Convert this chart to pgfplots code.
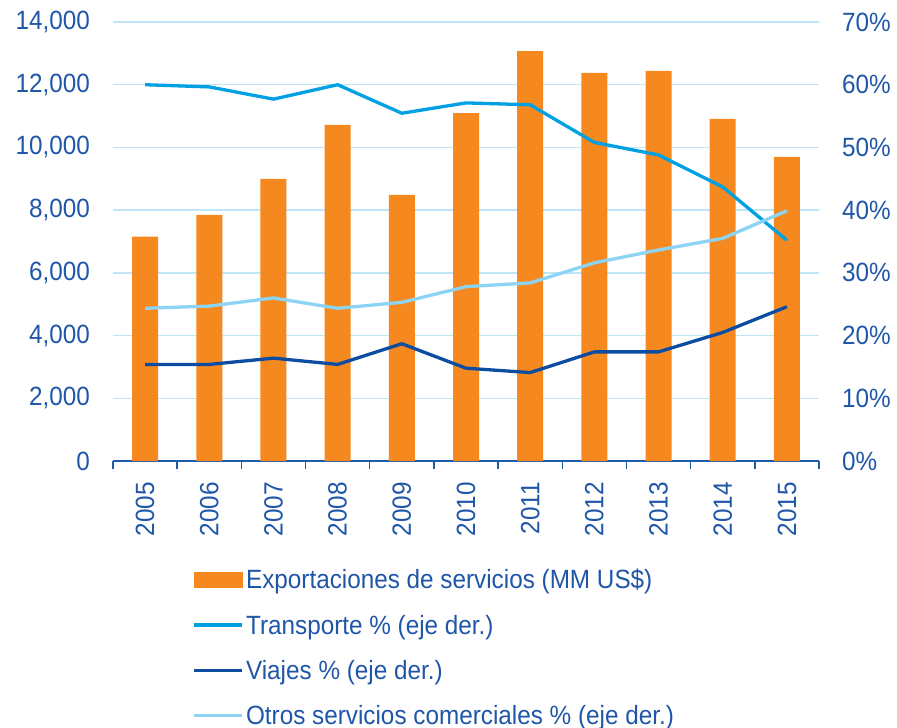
\documentclass[border=0pt]{standalone}
\usepackage{fontspec}
\setmainfont{Liberation Sans}[FakeStretch=0.92]
\usepackage{pgfplots}
\pgfplotsset{compat=1.18}
\definecolor{barorange}{RGB}{245,137,31}
\definecolor{transp}{RGB}{0,160,227}
\definecolor{viajes}{RGB}{12,77,162}
\definecolor{otros}{RGB}{141,211,244}
\definecolor{textblue}{RGB}{31,86,168}
\definecolor{gridblue}{RGB}{190,230,247}
\definecolor{axisblue}{RGB}{31,91,170}
\begin{document}
\begin{tikzpicture}
\path[use as bounding box] (-113bp,-267bp) rectangle (784bp,461bp);
\begin{axis}[
  scale only axis, width=706bp, height=439bp,
  at={(0,0)}, anchor=south west,
  xmin=-0.5, xmax=10.5, ymin=0, ymax=14000,
  axis x line*=bottom, axis y line*=left,
  x axis line style={-, line width=1.8bp, color=axisblue},
  y axis line style={draw=none},
  xtick={0,...,10},
  xticklabels={2005,2006,2007,2008,2009,2010,2011,2012,2013,2014,2015},
  minor xtick={-0.5,0.5,...,10.5},
  major tick length=0pt, minor tick length=8bp, tick align=outside,
  major x tick style={draw=none}, ytick style={draw=none},
  minor x tick style={line width=1.5bp, color=axisblue},
  ytick={0,2000,...,14000}, scaled y ticks=false,
  ymajorgrids, grid style={line width=1.5bp, color=gridblue},
  /pgf/number format/assume math mode=true,
  /pgf/number format/1000 sep={,},
  tick label style={font=\fontsize{26.5}{30}\selectfont, color=textblue},
  yticklabel style={inner sep=0pt, anchor=east, xshift=-23bp},
  xticklabel style={inner sep=0pt, yshift=-21bp, rotate=90, anchor=east},
]
\addplot[ybar, bar width=26bp, fill=barorange, draw=none] coordinates {
(0,7157) (1,7850) (2,9000) (3,10720) (4,8490) (5,11094) (6,13070) (7,12380) (8,12444) (9,10912) (10,9700)};
\end{axis}
\begin{axis}[
  scale only axis, width=706bp, height=439bp,
  at={(0,0)}, anchor=south west,
  xmin=-0.5, xmax=10.5, ymin=0, ymax=70,
  axis x line=none, axis y line*=right,
  y axis line style={draw=none}, ytick style={draw=none},
  major tick length=0pt,
  ytick={0,10,...,70},
  yticklabel={\pgfmathprintnumber{\tick}\%},
  /pgf/number format/assume math mode=true,
  tick label style={font=\fontsize{26.5}{30}\selectfont, color=textblue},
  yticklabel style={inner sep=0pt, anchor=west, xshift=23bp},
  legend style={draw=none, fill=none, at={(0.112,-0.242)}, anchor=north west,
    inner sep=0pt, row sep=20.5bp, font=\fontsize{26.5}{30}\selectfont,
    text=textblue, nodes={inner sep=2bp}},
  legend cell align=left,
  legend image code/.code={\draw[#1, line width=3.8bp] (0bp,0bp) -- (48bp,0bp);},
]
\addlegendimage{legend image code/.code={\fill[barorange] (0bp,-7.5bp) rectangle (48bp,7.5bp);}}
\addlegendentry{Exportaciones de servicios (MM US\$)}
\addplot[transp, line width=3.3bp, line join=round] coordinates {
(0,60.0) (1,59.65) (2,57.7) (3,60.0) (4,55.45) (5,57.1) (6,56.8) (7,50.8) (8,48.8) (9,43.7) (10,35.2)};
\addlegendentry{Transporte \% (eje der.)}
\addplot[viajes, line width=3.3bp, line join=round] coordinates {
(0,15.4) (1,15.4) (2,16.4) (3,15.4) (4,18.7) (5,14.8) (6,14.1) (7,17.4) (8,17.4) (9,20.5) (10,24.6)};
\addlegendentry{Viajes \% (eje der.)}
\addplot[otros, line width=3.3bp, line join=round] coordinates {
(0,24.35) (1,24.7) (2,26.0) (3,24.35) (4,25.3) (5,27.8) (6,28.4) (7,31.6) (8,33.65) (9,35.5) (10,39.9)};
\addlegendentry{Otros servicios comerciales \% (eje der.)}
\end{axis}
\end{tikzpicture}
\end{document}
